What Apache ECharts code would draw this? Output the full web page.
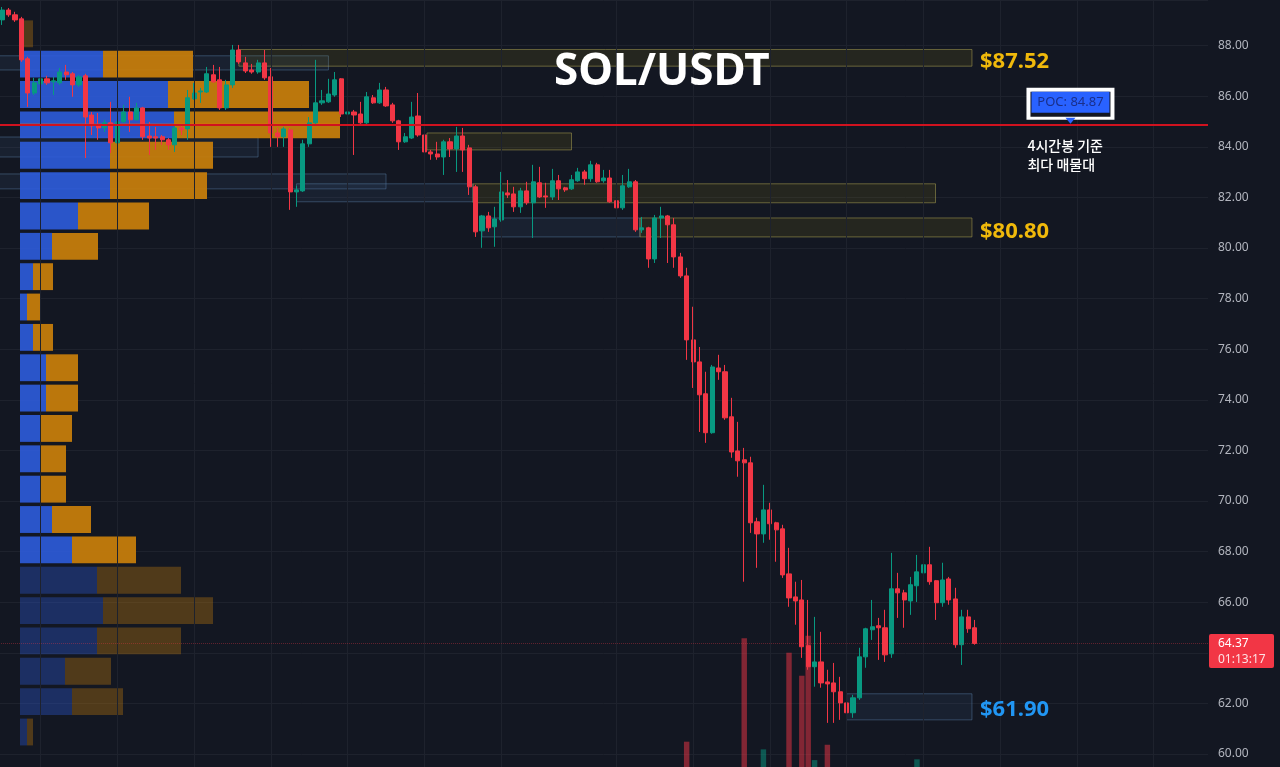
<!DOCTYPE html>
<html>
<head>
<meta charset="utf-8">
<title>SOL/USDT</title>
<script src="https://cdn.jsdelivr.net/npm/echarts@6.0.0/dist/echarts.min.js"></script>
<style>
    html, body { margin: 0; padding: 0; background: #131722; }
    #chart { width: 1280px; height: 767px; }
</style>
</head>
<body>
<div id="chart"></div>
<script>
// 4시간봉 캔들 [open, close, low, high]
const candles = [
    [89.02, 89.41, 88.82, 89.53], [89.41, 89.22, 89.14, 89.49], [89.22, 89.02, 88.94, 89.34], [89.06, 87.44, 87.36, 89.14],
    [87.48, 86.13, 85.58, 87.56], [86.13, 86.53, 86.05, 86.73], [86.49, 86.69, 86.37, 87.04], [86.69, 86.53, 86.45, 86.81],
    [86.57, 86.61, 86.05, 86.77], [86.53, 86.96, 86.45, 87.12], [86.96, 86.85, 86.65, 87.24], [86.89, 86.45, 85.98, 86.96],
    [86.45, 86.77, 86.37, 86.85], [86.81, 85.18, 83.56, 86.89], [85.26, 84.83, 84.47, 85.38], [84.87, 84.75, 84.28, 85.34],
    [84.75, 84.95, 84.59, 85.07], [84.95, 84.16, 83.76, 85.78], [84.16, 84.99, 83.56, 85.07], [84.99, 85.38, 84.95, 85.66],
    [85.38, 85.07, 84.59, 85.98], [85.07, 85.54, 85.05, 85.74], [85.54, 84.40, 84.28, 85.58], [84.43, 84.35, 83.68, 84.99],
    [84.40, 84.35, 83.88, 84.79], [84.40, 84.28, 84.08, 84.47], [84.28, 84.08, 83.88, 84.35], [84.08, 84.75, 83.80, 84.87],
    [84.75, 84.67, 84.47, 84.83], [84.71, 85.94, 84.28, 86.25], [85.90, 86.13, 85.86, 86.53], [86.17, 86.21, 85.74, 86.33],
    [86.17, 86.89, 86.13, 87.16], [86.85, 86.57, 86.53, 87.24], [86.65, 85.54, 85.46, 87.16], [85.54, 86.45, 85.46, 86.65],
    [86.45, 87.83, 86.33, 88.03], [87.83, 87.36, 87.28, 88.03], [87.32, 87.00, 86.92, 87.56], [87.04, 86.96, 86.89, 87.28],
    [86.96, 87.32, 86.89, 87.44], [87.32, 86.73, 86.65, 87.83], [86.77, 84.55, 84.00, 87.12], [84.55, 84.40, 84.00, 84.75],
    [84.40, 84.71, 84.00, 84.79], [84.67, 82.22, 81.51, 84.75], [82.22, 82.30, 81.63, 82.46], [82.26, 84.12, 82.22, 84.28],
    [84.12, 84.95, 84.00, 85.18], [84.95, 85.74, 84.91, 87.44], [85.74, 85.82, 85.66, 86.25], [85.78, 86.09, 85.74, 86.69],
    [86.05, 86.65, 85.98, 86.96], [86.69, 85.30, 85.18, 86.72], [85.30, 85.38, 85.14, 85.86], [85.38, 85.26, 83.68, 85.46],
    [85.30, 84.95, 84.91, 85.78], [84.95, 85.98, 84.91, 86.17], [85.94, 85.74, 85.70, 86.05], [85.74, 86.25, 85.70, 86.53],
    [86.25, 85.62, 85.58, 86.37], [85.66, 85.03, 84.95, 85.74], [85.03, 84.20, 83.88, 85.07], [84.20, 84.40, 84.16, 84.55],
    [84.35, 85.18, 84.31, 85.78], [85.22, 84.47, 84.40, 86.13], [84.47, 83.80, 83.17, 84.55], [83.80, 83.72, 83.49, 83.88],
    [83.72, 83.60, 83.49, 84.20], [83.60, 84.20, 82.89, 84.28], [84.20, 83.92, 83.60, 84.35], [83.92, 84.43, 83.01, 84.79],
    [84.43, 83.88, 83.01, 84.75], [83.96, 82.42, 82.10, 84.08], [82.42, 80.64, 80.44, 82.50], [80.68, 81.27, 80.01, 81.31],
    [81.27, 80.80, 80.64, 81.43], [80.84, 81.15, 80.05, 81.63], [81.11, 82.22, 81.04, 83.01], [82.18, 82.10, 81.98, 82.69],
    [82.14, 81.63, 81.43, 82.42], [81.63, 82.26, 81.39, 82.38], [82.26, 81.79, 81.71, 82.62], [81.79, 82.62, 80.40, 83.29],
    [82.58, 82.02, 81.98, 83.21], [82.06, 82.02, 81.59, 82.58], [82.02, 82.66, 81.90, 83.13], [82.66, 82.34, 81.90, 82.89],
    [82.38, 82.30, 82.22, 82.42], [82.34, 82.70, 82.30, 82.89], [82.66, 83.01, 82.62, 83.17], [83.01, 82.74, 82.50, 83.09],
    [82.74, 83.29, 82.62, 83.45], [83.29, 82.62, 82.58, 83.37], [82.66, 82.77, 82.58, 83.09], [82.77, 81.83, 81.79, 83.09],
    [81.87, 81.59, 81.39, 82.89], [81.59, 82.46, 81.51, 82.89], [82.42, 82.62, 82.38, 83.13], [82.62, 80.72, 80.64, 82.69],
    [80.72, 80.80, 80.60, 81.23], [80.80, 79.57, 79.22, 80.84], [79.57, 81.19, 79.41, 81.31], [81.19, 81.27, 80.40, 81.63],
    [81.27, 80.92, 79.41, 81.31], [80.92, 79.65, 79.22, 81.19], [79.65, 78.90, 78.82, 79.81], [78.90, 76.37, 75.58, 79.22],
    [76.37, 75.50, 74.47, 77.68], [75.50, 74.20, 72.73, 76.09], [74.24, 72.70, 72.30, 75.11], [72.70, 75.30, 72.66, 75.38],
    [75.26, 75.11, 74.79, 75.78], [75.11, 73.29, 73.21, 75.38], [73.33, 71.94, 71.71, 74.08], [71.98, 71.59, 70.96, 73.13],
    [71.63, 71.51, 66.81, 72.10], [71.51, 69.14, 68.74, 71.75], [69.18, 68.70, 67.36, 69.34], [68.70, 69.65, 68.35, 70.64],
    [69.65, 69.10, 68.47, 69.93], [69.14, 68.86, 67.60, 69.18], [68.90, 67.08, 66.96, 69.06], [67.12, 66.17, 65.82, 68.15],
    [66.21, 66.05, 65.11, 66.81], [66.09, 64.24, 63.80, 66.88], [64.28, 63.45, 63.33, 66.09], [63.45, 63.64, 62.66, 65.42],
    [63.64, 62.81, 62.62, 64.83], [62.85, 62.77, 61.23, 63.33], [62.81, 62.46, 61.23, 63.60], [62.46, 62.02, 61.35, 63.05],
    [62.02, 61.63, 61.39, 62.42], [61.63, 62.22, 61.43, 62.34], [62.22, 63.84, 62.14, 64.20], [63.84, 64.95, 63.41, 64.99],
    [64.91, 65.03, 64.51, 66.09], [65.07, 64.99, 63.72, 65.38], [64.99, 63.92, 63.64, 65.70], [63.96, 66.53, 63.80, 67.95],
    [66.53, 66.37, 65.38, 67.16], [66.37, 66.09, 64.99, 66.49], [66.05, 66.69, 65.50, 67.00], [66.65, 67.20, 66.01, 67.87],
    [67.16, 67.48, 66.69, 67.60], [67.48, 66.81, 66.69, 68.19], [66.85, 65.98, 65.30, 66.88], [65.98, 66.88, 65.82, 67.56],
    [66.92, 66.09, 65.90, 67.00], [66.13, 64.32, 64.20, 66.57], [64.32, 65.42, 63.52, 65.70], [65.42, 64.95, 64.79, 65.70],
    [64.99, 64.37, 64.32, 65.30]
];

// 화면 하단에 보이는 거래량 막대 [캔들 번호, 거래량]
const volumeBars = [[107, 3.3], [116, 16.8], [119, 2.3], [123, 14.9], [125, 11.9], [126, 17.1], [127, 0.9], [129, 2.9], [143, 1.0]];

// 매물대 (아래에서 위로, 1.2 달러 간격)
const profileLow = 60.2;
const profileStep = 1.2;
const buyVol = [7, 52, 45, 77, 83, 77, 52, 32, 20, 20, 20, 26, 26, 13, 7, 13, 32, 58, 90, 90, 154, 148, 83, 0];
const sellVol = [6, 51, 46, 84, 110, 84, 64, 39, 26, 26, 32, 32, 32, 20, 13, 20, 46, 71, 97, 103, 166, 141, 90, 13];
const valueArea = [6, 22];
const pocRow = 20;
const pocPrice = 84.87;

// 지지/저항 구간 (0: 파랑, 1: 노랑)
const zoneStart = [-0.5, 37, -0.5, 66.4, -0.5, 46, 73.6, 75, 99.7, 132];
const zoneEnd = [51, 151.6, 40, 89, 60, 73.6, 145.9, 99.7, 151.6, 151.6];
const zoneLow = [87.04, 87.19, 83.60, 83.88, 82.34, 81.83, 81.79, 80.44, 80.44, 61.35];
const zoneHigh = [87.60, 87.85, 84.39, 84.55, 82.93, 82.54, 82.54, 81.19, 81.19, 62.38];
const zoneType = [0, 1, 0, 1, 0, 0, 1, 0, 1, 0];
const zoneLabel = [null, 87.52, null, null, null, null, null, null, 80.80, 61.90];

const lastClose = 64.37;
const countdown = '01:13:17';
const yMin = 59.486;
const yMax = 89.806;
const vGridIdx = [6, 18, 30, 42, 54, 66, 78, 96, 108, 120, 132, 144, 156, 168, 180];

const nCats = 189;
const categories = Array.from({ length: nCats }, (_, i) => String(i));
const ohlc = categories.map((_, i) => candles[i] || '-');

const volData = categories.map(() => '-');
volumeBars.forEach(([i, v]) => {
    const up = candles[i][1] >= candles[i][0];
    volData[i] = { value: v, itemStyle: { color: up ? 'rgba(8,153,129,0.5)' : 'rgba(242,54,69,0.5)' } };
});

const profileData = buyVol.map((b, j) => [j, b, sellVol[j]]);
const zoneData = zoneStart.map((s, k) => [s, zoneEnd[k], zoneLow[k], zoneHigh[k], zoneType[k]]);
const labelData = [];
zoneLabel.forEach((p, k) => { if (p != null) labelData.push([zoneEnd[k], p, zoneType[k]]); });

const BG = '#131722';
const UP = '#089981';
const DOWN = '#f23645';

function renderProfile(params, api) {
    const j = api.value(0);
    const lo = profileLow + j * profileStep;
    const hi = lo + profileStep;
    const a = api.coord([0, hi]);
    const b = api.coord([api.value(1), lo]);
    const s = api.coord([api.value(1) + api.value(2), lo]);
    const h = b[1] - a[1] - 3.5;
    const inside = j >= valueArea[0] && j <= valueArea[1];
    const children = [
        { type: 'rect', shape: { x: a[0], y: a[1], width: b[0] - a[0], height: h },
          style: { fill: '#2d5cdc', opacity: inside ? 0.9 : 0.35 } },
        { type: 'rect', shape: { x: b[0], y: a[1], width: s[0] - b[0], height: h },
          style: { fill: '#c47c0c', opacity: inside ? 0.95 : 0.35 } }
    ];
    if (j === pocRow) {
        const p = api.coord([0, pocPrice]);
        children.push({ type: 'line', shape: { x1: p[0], y1: p[1], x2: s[0], y2: p[1] },
            style: { stroke: '#ff6d00', lineWidth: 2 } });
    }
    return { type: 'group', children };
}

function renderZone(params, api) {
    const a = api.coord([api.value(0), api.value(3)]);
    const b = api.coord([api.value(1), api.value(2)]);
    const yellow = api.value(4) === 1;
    return {
        type: 'rect',
        shape: { x: a[0], y: a[1], width: b[0] - a[0], height: b[1] - a[1] },
        style: {
            fill: yellow ? 'rgba(140,130,20,0.15)' : 'rgba(70,110,160,0.12)',
            stroke: yellow ? 'rgba(180,170,86,0.5)' : 'rgba(90,130,170,0.45)',
            lineWidth: 1
        }
    };
}

function renderZoneLabel(params, api) {
    const p = api.coord([api.value(0), api.value(1)]);
    return {
        type: 'text',
        style: {
            x: p[0] + 8, y: p[1] + 4,
            text: '$' + api.value(1).toFixed(2),
            fill: api.value(2) === 1 ? '#f0b90b' : '#2196f3',
            font: 'bold 22px "Noto Sans", sans-serif',
            align: 'left', verticalAlign: 'middle'
        }
    };
}

function renderPoc(params, api) {
    const p = api.coord([api.value(0), api.value(1)]);
    const x = p[0], y = p[1];
    return {
        type: 'group',
        children: [
            { type: 'rect', shape: { x: x - 44, y: y - 37, width: 88, height: 32 }, style: { fill: '#ffffff' } },
            { type: 'rect', shape: { x: x - 40, y: y - 33, width: 80, height: 25 }, style: { fill: BG } },
            { type: 'rect', shape: { x: x - 39, y: y - 33, width: 78, height: 21 }, style: { fill: '#2962ff' } },
            { type: 'text', style: { x: x, y: y - 22.5, text: 'POC: ' + api.value(1).toFixed(2), fill: '#1a2f8a',
                font: '13px "Noto Sans", sans-serif', align: 'center', verticalAlign: 'middle' } },
            { type: 'polygon', shape: { points: [[x - 5, y - 7], [x + 5, y - 7], [x, y - 1]] }, style: { fill: '#2962ff' } },
            { type: 'text', style: { x: x - 43, y: y + 11, text: '4시간봉 기준\n최다 매물대', fill: '#ffffff',
                font: '500 14px "Noto Sans CJK KR", sans-serif', lineHeight: 19, align: 'left', verticalAlign: 'top' } }
        ]
    };
}

function renderTag(params, api) {
    const p = api.coord([api.value(0), api.value(1)]);
    return {
        type: 'group',
        children: [
            { type: 'rect', shape: { x: p[0] + 1, y: p[1] - 9.5, width: 65, height: 34, r: 2 }, style: { fill: DOWN } },
            { type: 'text', style: { x: p[0] + 10, y: p[1], text: api.value(1).toFixed(2), fill: '#ffffff',
                font: '12px "Noto Sans", sans-serif', align: 'left', verticalAlign: 'middle' } },
            { type: 'text', style: { x: p[0] + 10, y: p[1] + 16, text: countdown, fill: 'rgba(255,255,255,0.85)',
                font: '12px "Noto Sans", sans-serif', align: 'left', verticalAlign: 'middle' } }
        ]
    };
}

const chart = echarts.init(document.getElementById('chart'));
chart.setOption({
    backgroundColor: BG,
    animation: false,
    title: {
        text: 'SOL/USDT',
        left: 549,
        top: 45,
        textStyle: { color: '#ffffff', fontSize: 44, fontWeight: 'bold', fontFamily: 'Noto Sans' }
    },
    grid: { left: -1, right: 72, top: 0, bottom: 0, outerBoundsMode: 'none' },
    xAxis: [
        { type: 'category', data: categories, boundaryGap: true, show: false },
        { type: 'value', min: -0.5, max: nCats - 0.5, show: false },
        { type: 'value', min: -21, max: 1188, show: false }
    ],
    yAxis: [
        {
            type: 'value',
            position: 'right',
            min: yMin,
            max: yMax,
            minInterval: 2,
            maxInterval: 2,
            axisLine: { show: false },
            axisTick: { show: false },
            splitLine: { lineStyle: { color: '#1e222d', width: 1 } },
            axisLabel: {
                color: '#b2b5be',
                fontSize: 12,
                fontFamily: 'Noto Sans',
                margin: 10,
                showMinLabel: false,
                showMaxLabel: false,
                formatter: v => (Math.abs(v / 2 - Math.round(v / 2)) < 1e-6 ? v.toFixed(2) : '')
            }
        },
        { type: 'value', min: 0, max: 100, show: false }
    ],
    series: [
        {
            name: 'volume',
            type: 'bar',
            xAxisIndex: 0,
            yAxisIndex: 1,
            data: volData,
            barWidth: '85%',
            z: 1,
            silent: true,
            markLine: {
                silent: true,
                symbol: ['none', 'none'],
                label: { show: false },
                lineStyle: { color: '#1e222d', width: 1, type: 'solid' },
                data: vGridIdx.map(i => ({ xAxis: i }))
            }
        },
        {
            name: 'zones',
            type: 'custom',
            xAxisIndex: 1,
            yAxisIndex: 0,
            data: zoneData,
            renderItem: renderZone,
            z: 2,
            silent: true,
            markLine: {
                silent: true,
                symbol: ['none', 'none'],
                label: { show: false },
                data: [
                    { yAxis: pocPrice, lineStyle: { color: '#d0121f', width: 2, type: 'solid' } },
                    { yAxis: lastClose, lineStyle: { color: 'rgba(242,54,69,0.35)', width: 1, type: 'dotted' } }
                ]
            }
        },
        {
            name: 'profile',
            type: 'custom',
            xAxisIndex: 2,
            yAxisIndex: 0,
            data: profileData,
            renderItem: renderProfile,
            z: 3,
            silent: true
        },
        {
            name: 'SOL/USDT',
            type: 'candlestick',
            xAxisIndex: 0,
            yAxisIndex: 0,
            data: ohlc,
            barWidth: '72%',
            z: 4,
            itemStyle: { color: UP, color0: DOWN, borderColor: UP, borderColor0: DOWN, borderWidth: 1 }
        },
        {
            name: 'zoneLabels',
            type: 'custom',
            xAxisIndex: 1,
            yAxisIndex: 0,
            data: labelData,
            renderItem: renderZoneLabel,
            clip: false,
            z: 5,
            silent: true
        },
        {
            name: 'poc',
            type: 'custom',
            xAxisIndex: 1,
            yAxisIndex: 0,
            data: [[167, pocPrice]],
            renderItem: renderPoc,
            clip: false,
            z: 5,
            silent: true
        },
        {
            name: 'lastPrice',
            type: 'custom',
            xAxisIndex: 1,
            yAxisIndex: 0,
            data: [[nCats - 0.5, lastClose]],
            renderItem: renderTag,
            clip: false,
            z: 6,
            silent: true
        }
    ]
});

window.addEventListener('resize', () => chart.resize());
</script>
</body>
</html>
